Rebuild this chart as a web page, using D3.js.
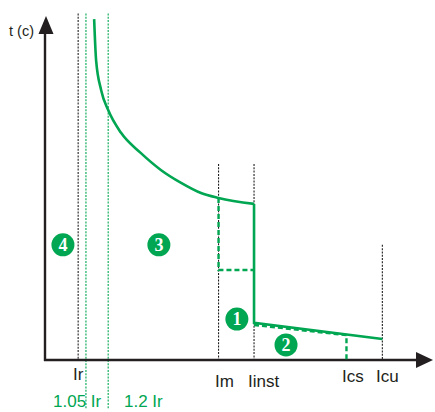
<!DOCTYPE html>
<html>
<head>
<meta charset="utf-8">
<script src="https://cdn.jsdelivr.net/npm/d3@7"></script>
<style>
  body { margin: 0; background: #fff; }
  svg { display: block; }
</style>
</head>
<body>
<div id="chart"></div>
<script>
// tripping curve sketch, values in abstract units (0-100 on both axes)
const green = '#00a651'
const ink = '#231f20'

// reference currents along the x axis
const markNames = ['Ir', '1.05 Ir', '1.2 Ir', 'Im', 'Iinst', 'Ics', 'Icu']
const markX = [8.5, 10.5, 16.2, 44.5, 53.6, 77.3, 86.5]
const markTop = [99, 99, 99, 56, 56, 0, 32.9]
const markBottom = [0, -14, -14, 0, 0, 0, 0]
const markColor = [ink, green, green, ink, ink, null, ink]

// thermal (long time) part of the curve
const curveX = [12.6, 13.1, 14.4, 16.2, 19.5, 24.6, 29.7, 34.9, 40.0, 44.5, 53.6]
const curveY = [97.4, 85.7, 77.1, 71.4, 64.9, 59.1, 54.3, 50.6, 47.7, 46.3, 44.6]

// instantaneous drop and the tail out to Icu
const tailX = [53.6, 53.6, 86.5]
const tailY = [44.6, 10.6, 6.0]

// dashed alternatives (short time delay / Ics)
const shortX = [44.5, 44.5, 53.6]
const shortY = [46.3, 25.7, 25.7]
const icsX = [53.6, 77.3, 77.3]
const icsY = [10.0, 7.1, 0]

// zone badges
const zoneNames = ['4', '3', '1', '2']
const zoneX = [4.6, 29.2, 49.2, 61.8]
const zoneY = [32.9, 32.9, 11.7, 4.3]

const width = 435
const height = 412

const svg = d3.select('#chart')
  .append('svg')
  .attr('width', width)
  .attr('height', height)

const xScale = d3.scaleLinear().domain([0, 100]).range([45, 435])
const yScale = d3.scaleLinear().domain([0, 100]).range([360, 10])

// reference lines
markNames.forEach((name, i) => {
  if (!markColor[i]) return
  svg.append('line')
    .attr('x1', xScale(markX[i]))
    .attr('x2', xScale(markX[i]))
    .attr('y1', yScale(markTop[i]))
    .attr('y2', yScale(markBottom[i]))
    .attr('stroke', markColor[i])
    .attr('stroke-width', 1.1)
    .attr('stroke-dasharray', '2,1.3')
})

// axes
svg.append('line')
  .attr('x1', xScale(0)).attr('x2', xScale(0))
  .attr('y1', yScale(0) + 1).attr('y2', 30)
  .attr('stroke', ink).attr('stroke-width', 2.4)
svg.append('line')
  .attr('x1', xScale(0) - 1).attr('x2', 420)
  .attr('y1', yScale(0)).attr('y2', yScale(0))
  .attr('stroke', ink).attr('stroke-width', 2.4)
svg.append('path')
  .attr('d', `M${xScale(0) + 1},16 L${xScale(0) + 8.5},34 L${xScale(0) - 6.5},34 Z`)
  .attr('fill', ink)
svg.append('path')
  .attr('d', `M433,${yScale(0)} L416,${yScale(0) - 8} L416,${yScale(0) + 8} Z`)
  .attr('fill', ink)

svg.append('text')
  .attr('x', 9).attr('y', 36)
  .attr('font-family', 'Liberation Sans, Arial, sans-serif')
  .attr('font-size', 14.5)
  .attr('fill', ink)
  .text('t (c)')

// dashed pieces
const line = d3.line().x(d => xScale(d[0])).y(d => yScale(d[1]))
;[[shortX, shortY], [icsX, icsY]].forEach(([xs, ys]) => {
  svg.append('path')
    .attr('d', line(xs.map((x, i) => [x, ys[i]])))
    .attr('fill', 'none')
    .attr('stroke', green)
    .attr('stroke-width', 2.4)
    .attr('stroke-dasharray', '5,3')
})

// solid curve
const smooth = d3.line().curve(d3.curveMonotoneX).x(d => xScale(d[0])).y(d => yScale(d[1]))
svg.append('path')
  .attr('d', smooth(curveX.map((x, i) => [x, curveY[i]])))
  .attr('fill', 'none')
  .attr('stroke', green)
  .attr('stroke-width', 2.6)
svg.append('path')
  .attr('d', line(tailX.map((x, i) => [x, tailY[i]])))
  .attr('fill', 'none')
  .attr('stroke', green)
  .attr('stroke-width', 2.6)

// labels under the axis
const labelY = { 'Ir': 380, '1.05 Ir': 407, '1.2 Ir': 407, 'Im': 387, 'Iinst': 387, 'Ics': 382, 'Icu': 382 }
const labelLeft = { 'Ir': 73, '1.05 Ir': 53, '1.2 Ir': 124, 'Im': 215, 'Iinst': 248, 'Ics': 342, 'Icu': 376 }
markNames.forEach((name, i) => {
  svg.append('text')
    .attr('x', labelLeft[name])
    .attr('y', labelY[name])
    .attr('font-family', 'Liberation Sans, Arial, sans-serif')
    .attr('font-size', 17)
    .attr('fill', markColor[i] === green ? green : ink)
    .text(name)
})

// zone badges
const badges = svg.append('g')
zoneNames.forEach((name, i) => {
  badges.append('circle')
    .attr('cx', xScale(zoneX[i]))
    .attr('cy', yScale(zoneY[i]))
    .attr('r', 11.5)
    .attr('fill', green)
  badges.append('text')
    .attr('x', xScale(zoneX[i]))
    .attr('y', yScale(zoneY[i]) + 6)
    .attr('text-anchor', 'middle')
    .attr('font-family', 'Liberation Serif, serif')
    .attr('font-weight', 'bold')
    .attr('font-size', 18)
    .attr('fill', '#fff')
    .text(name)
})
</script>
</body>
</html>
